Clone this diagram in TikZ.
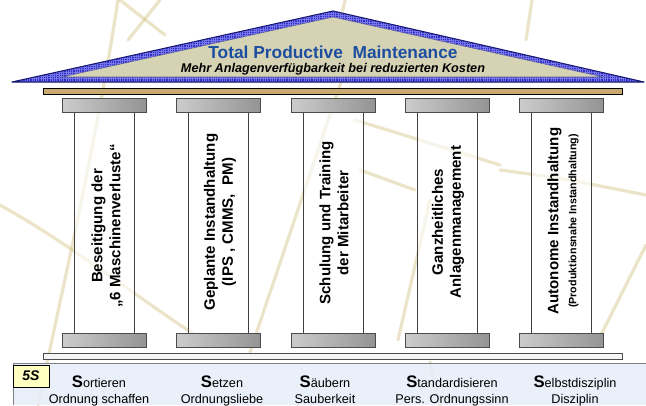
\documentclass[tikz,border=0pt]{standalone}
\usepackage{fontspec}
\setmainfont{Liberation Sans}
\usetikzlibrary{patterns.meta}

\definecolor{RoofBlue}{RGB}{48,48,200}
\definecolor{RoofHatch}{RGB}{120,120,235}
\definecolor{RoofNavy}{RGB}{25,25,115}
\definecolor{RoofFill}{RGB}{214,211,181}
\definecolor{TitleBlue}{RGB}{28,78,160}
\definecolor{BeamTan}{RGB}{200,170,112}
\definecolor{StripBlue}{RGB}{231,238,248}
\definecolor{BoxYellow}{RGB}{255,255,194}
\definecolor{Streak}{RGB}{205,188,118}

\begin{document}
\begin{tikzpicture}
	[x=0.75pt, y=-0.75pt,
	 Streaks/.style={Streak, line width=2.4pt, opacity=0.4, line cap=round},		%faint lines of the background
	 Capital/.style={draw=black!70, left color=black!20, right color=black!42, line width=0.6pt},
	 ShaftLine/.style={draw=black!75, line width=0.6pt},
	 ColText/.style={rotate=90, align=center, font=\bfseries\fontsize{11.3}{13.5}\selectfont},
	 SText/.style={anchor=base, font=\fontsize{9.5}{11}\selectfont}
	]

	\useasboundingbox (0,0) rectangle (646,405);

	\def\ShaftW{30};		%half width of a shaft, in px
	\def\CapW{42};			%half width of capital and base
	\def\ColTop{112};		%shaft starts under the capital
	\def\ColBot{333};		%shaft ends on the base

	%background streaks
	\draw[Streaks] (0,205) .. controls (80,250) and (140,300) .. (200,338);
	\draw[Streaks] (118,0) .. controls (95,150) and (60,300) .. (38,405);
	\draw[Streaks] (250,352) -- (345,70);
	\draw[Streaks] (120,0) -- (165,35);
	\draw[Streaks] (160,0) -- (128,40);
	\draw[Streaks] (345,0) -- (342,14);
	\draw[Streaks] (532,0) -- (526,40);
	\draw[Streaks] (355,120) .. controls (420,140) .. (500,165);
	\draw[Streaks] (360,170) -- (415,190);
	\draw[Streaks] (500,170) .. controls (560,178) .. (646,195);
	\draw[Streaks] (596,345) -- (646,245);
	\draw[Streaks] (398,340) -- (430,200);
	\draw[Streaks] (430,362) -- (440,405);

	%roof
	\fill[RoofBlue] (12,82) -- (333,11) -- (644,82) -- cycle;
	\fill[pattern={Hatch[angle=0,distance=1.7pt,line width=0.3pt]}, pattern color=RoofHatch] (12,82) -- (333,11) -- (644,82) -- cycle;
	\draw[RoofNavy, line width=0.8pt, line join=round] (12,82) -- (333,11) -- (644,82) -- cycle;
	\filldraw[fill=RoofFill, draw=RoofNavy!70, line width=0.4pt] (62,77) -- (333,17) -- (603,77) -- cycle;
	\node[anchor=base, TitleBlue, font=\bfseries\fontsize{13}{14}\selectfont] (title) at (333,58) {Total Productive\ \ Maintenance};
	\node[anchor=base, font=\bfseries\itshape\fontsize{9.5}{11}\selectfont] (subtitle) at (333,72.5) {Mehr Anlagenverfügbarkeit bei reduzierten Kosten};

	%beams
	\filldraw[fill=BeamTan, draw=black, line width=0.6pt] (43,88) rectangle (622,94);
	\filldraw[fill=black!4, draw=black!70, line width=0.6pt] (43,353) rectangle (622,359);

	%columns
	\foreach \cx in {104,218,333,447,561}
	{
		\fill[white, opacity=0.6] (\cx-\ShaftW,\ColTop) rectangle (\cx+\ShaftW,\ColBot);
		\draw[ShaftLine] (\cx-\ShaftW,\ColTop) -- (\cx-\ShaftW,\ColBot);
		\draw[ShaftLine] (\cx+\ShaftW,\ColTop) -- (\cx+\ShaftW,\ColBot);
		\path[Capital] (\cx-\CapW,98) rectangle (\cx+\CapW,\ColTop);
		\path[Capital] (\cx-\CapW,\ColBot) rectangle (\cx+\CapW,347);
	}

	\node[ColText] (col1) at (107,226) {Beseitigung der\\„6 Maschinenverluste“};
	\node[ColText] (col2) at (220,222) {Geplante Instandhaltung\\(IPS , CMMS,\ \ PM)};
	\node[ColText] (col3) at (334,223) {Schulung und Training\\der Mitarbeiter};
	\node[ColText] (col4) at (448,222) {Ganzheitliches\\Anlagenmanagement};
	\node[ColText] (col5) at (563,221) {Autonome Instandhaltung\\{\fontsize{8}{9.5}\selectfont(Produktionsnahe Instandhaltung)}};

	%5S strip
	\fill[StripBlue, opacity=0.9] (13,363) rectangle (646,405);
	\draw[black!50, line width=0.6pt] (13,405) -- (13,363) -- (646,363);
	\node[draw, fill=BoxYellow, line width=0.5pt, inner sep=0pt, minimum width=27pt, minimum height=16.5pt, font=\bfseries\itshape\fontsize{10.5}{12}\selectfont] (fives) at (31,376) {5S};

	\foreach \tx/\first/\rest/\second [count=\i] in {99/S/ortieren/Ordnung schaffen, 222/S/etzen/Ordnungsliebe, 325/S/äubern/Sauberkeit, 452/S/tandardisieren/Pers. Ordnungssinn, 575/S/elbstdisziplin/Disziplin}
	{
		\node[SText] (word\i) at (\tx,387) {{\bfseries\fontsize{12.5}{14}\selectfont\first}\rest};
		\node[SText] (sense\i) at (\tx,403) {\second};
	}

\end{tikzpicture}
\end{document}
